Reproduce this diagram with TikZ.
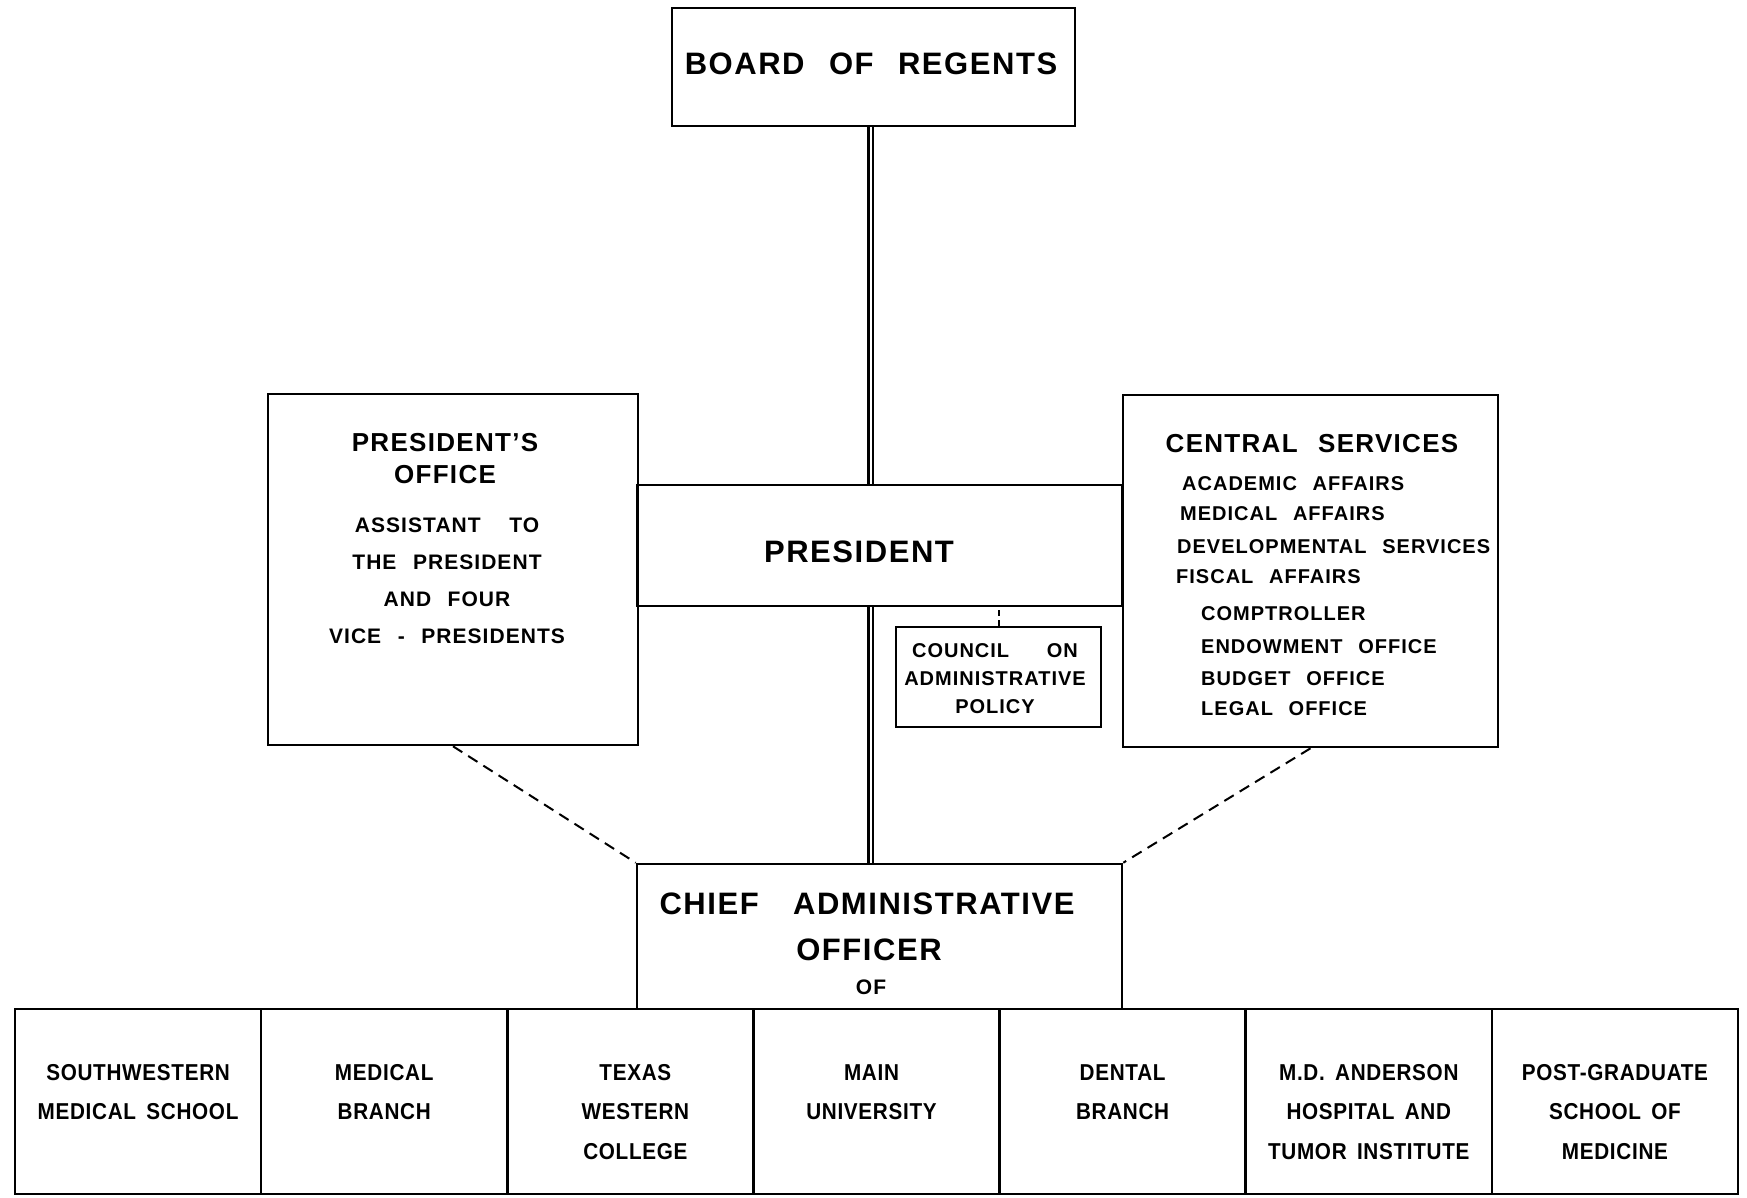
\documentclass[tikz,border=0pt]{standalone}
\usepackage{fontspec}
\setmainfont{Liberation Sans}[LetterSpace=5, WordSpace=2.4]
\newfontfamily\rowfont{Liberation Sans}[FakeStretch=0.9, LetterSpace=3, WordSpace=1.6]

\begin{document}
\begin{tikzpicture}[x=1pt, y=-1pt]
        \tikzstyle{box}=[draw, line width=2.6pt, inner sep=0pt]
        \tikzstyle{bigtxt}=[inner sep=0pt, font=\bfseries\fontsize{31}{38}\selectfont]
        \tikzstyle{midtxt}=[inner sep=0pt, align=center, font=\bfseries\fontsize{26}{32}\selectfont]
        \tikzstyle{smalltxt}=[inner sep=0pt, align=center, font=\bfseries\fontsize{21}{37}\selectfont]
        \tikzstyle{listtxt}=[inner sep=0pt, anchor=west, font=\bfseries\fontsize{20}{28}\selectfont]
        \tikzstyle{rowtxt}=[inner sep=0pt, align=center, font=\rowfont\bfseries\fontsize{23}{39.5}\selectfont]
        \tikzstyle{link}=[double, double distance=2pt, line width=2.2pt]
        \tikzstyle{dashlink}=[line width=2pt, dash pattern=on 11pt off 7pt]

        \useasboundingbox (0,0) rectangle (1747,1198);

% The boxes of the chart.

        \node[box, minimum width=403pt, minimum height=118pt] (board) at (873.5,67) {};
        \node[box, minimum width=370pt, minimum height=351pt] (presoff) at (453,569.5) {};
        \node[box, minimum width=485pt, minimum height=121pt] (pres) at (879.5,545.5) {};
        \node[box, minimum width=375pt, minimum height=352pt] (cs) at (1310.5,571) {};
        \node[box, minimum width=205pt, minimum height=100pt] (council) at (998.5,677) {};
        \node[box, minimum width=485pt, minimum height=145pt] (chief) at (879.5,936.5) {};
        \foreach \i in {1,...,7}
            \node[box, minimum width=246.14pt, minimum height=185pt] (unit\i) at (15+246.14*\i-123.07,1101.5) {};

% The texts.

        \node[bigtxt] (boardtxt) at (871,64) {BOARD OF REGENTS};
        \node[bigtxt] (prestxt) at (859,552) {PRESIDENT};
        \node[midtxt] (presofftitle) at (445,459) {PRESIDENT'S\\OFFICE};
        \node[smalltxt] (presoffbody) at (447,580.5) {ASSISTANT\hspace{12pt} TO\\THE PRESIDENT\\AND FOUR\\VICE - PRESIDENTS};
        \node[midtxt] (cstitle) at (1312,444) {CENTRAL SERVICES};
        \foreach \x/\y/\t [count=\i] in {1182/484/ACADEMIC AFFAIRS, 1180/514/MEDICAL AFFAIRS,
                1177/547/DEVELOPMENTAL SERVICES, 1176/577/FISCAL AFFAIRS, 1201/614/COMPTROLLER,
                1201/647/ENDOWMENT OFFICE, 1201/679/BUDGET OFFICE, 1201/709/LEGAL OFFICE}
            \node[listtxt] (cs\i) at (\x,\y) {\t};
        \node[smalltxt, font=\bfseries\fontsize{20}{28}\selectfont] (counciltxt) at (995,679) {COUNCIL\hspace{22pt} ON\\ADMINISTRATIVE\\POLICY};
        \node[bigtxt] (chieftxt) at (867,904) {CHIEF\hspace{10pt} ADMINISTRATIVE};
        \node[bigtxt] (officertxt) at (869,950) {OFFICER};
        \node[smalltxt] (oftxt) at (871,987) {OF};

        \node[rowtxt] (unittxt1) at (unit1 |- 0,1092) {SOUTHWESTERN\\MEDICAL SCHOOL};
        \node[rowtxt] (unittxt2) at (unit2 |- 0,1092) {MEDICAL\\BRANCH};
        \node[rowtxt] (unittxt3) at ([xshift=5pt]unit3 |- 0,1112) {TEXAS\\WESTERN\\COLLEGE};
        \node[rowtxt] (unittxt4) at ([xshift=-5pt]unit4 |- 0,1092) {MAIN\\UNIVERSITY};
        \node[rowtxt] (unittxt5) at (unit5 |- 0,1092) {DENTAL\\BRANCH};
        \node[rowtxt] (unittxt6) at (unit6 |- 0,1112) {M.D. ANDERSON\\HOSPITAL AND\\TUMOR INSTITUTE};
        \node[rowtxt] (unittxt7) at (unit7 |- 0,1112) {POST-GRADUATE\\SCHOOL OF\\MEDICINE};

% The connectors.

        \coordinate (spine) at ([xshift=-3pt]board.south);
        \draw[link] (spine) -- (spine |- pres.north);
        \draw[link] (spine |- pres.south) -- (spine |- chief.north);
        \draw[dashlink] (presoff.south) -- (chief.north west);
        \draw[dashlink] (cs.south) -- (chief.north east);
        \draw[line width=2pt, dash pattern=on 6pt off 4pt] (council.north) -- (council.north |- pres.south);

    \end{tikzpicture}
\end{document}
